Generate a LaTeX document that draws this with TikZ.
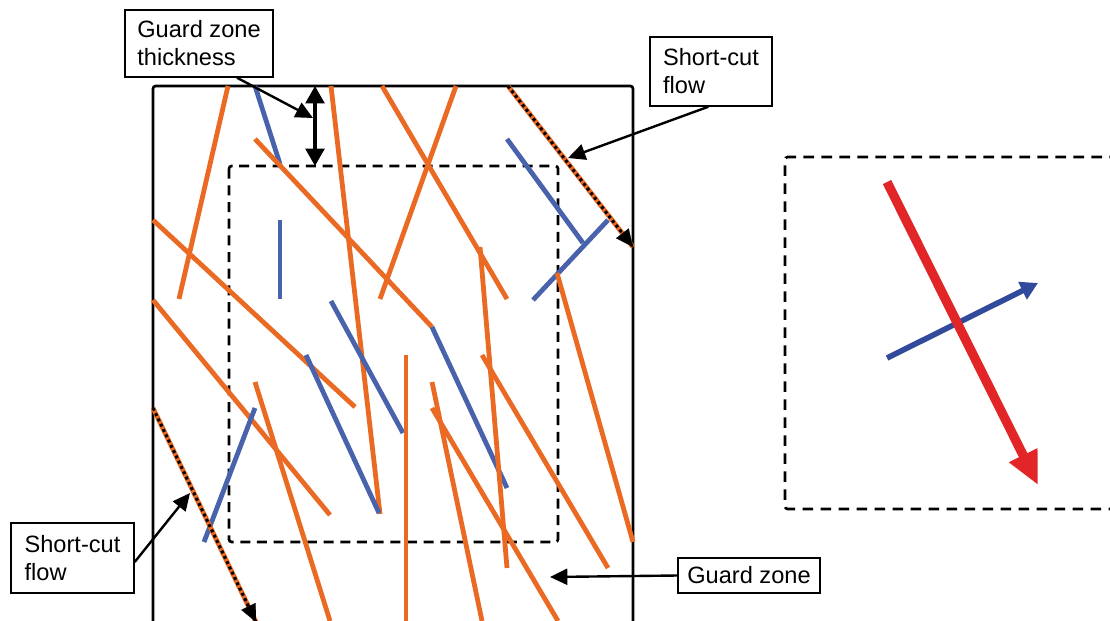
\documentclass[tikz,border=0pt]{standalone}
\usepackage{fontspec}
\setmainfont{Liberation Sans}
\usetikzlibrary{arrows.meta,calc}
\definecolor{fibor}{RGB}{234,106,36}
\definecolor{fibbl}{RGB}{72,98,172}
\definecolor{arred}{RGB}{226,37,38}
\definecolor{arbl}{RGB}{50,74,155}
\begin{document}
\begin{tikzpicture}[x=0.75pt,y=-0.75pt,
  ofib/.style={draw=fibor, line width=3.6pt},
  bfib/.style={draw=fibbl, line width=3.6pt},
  lbl/.style={draw, line width=1.1pt, fill=white, align=left,
    font=\fontsize{17.7}{21}\selectfont, inner sep=0pt},
  leader/.style={line width=1.8pt, -{Triangle[length=13pt,width=12pt]}},
  dotline/.style={draw=black, line width=2.3pt, dash pattern=on 2.2pt off 2.2pt},
  dottip/.style={line width=0.1pt, -{Triangle[length=13pt,width=12pt]}},
  gzbox/.style={line width=2pt, dash pattern=on 7.5pt off 5pt},
  outer/.style={line width=2pt, rounded corners=2pt}]
\useasboundingbox (0,0) rectangle (1110,621);
\clip (0,0) rectangle (1110,621);

% outer sample box and guard-zone box
\draw[outer] (153,630) -- (153,86) -- (633,86) -- (633,630);
\draw[gzbox, rounded corners=2pt] (229,166) rectangle (558,542);

% fibres
\draw[ofib] (228,86) -- (179,299);
\draw[bfib] (255,86) -- (280,164);
\draw[ofib] (255,139) -- (432,327);
\draw[bfib] (432,327) -- (507,488);
\draw[ofib] (331,86) -- (380,514);
\draw[ofib] (382,86) -- (507,299);
\draw[ofib] (456,86) -- (380,299);
\draw[ofib] (480,247) -- (507,568);
\draw[bfib] (507,139) -- (583,243);
\draw[bfib] (533,300) -- (608,220);
\draw[ofib] (557,273) -- (633,542);
\draw[bfib] (280,220) -- (280,299);
\draw[ofib] (153,220) -- (355,407);
\draw[ofib] (153,300) -- (330,515);
\draw[bfib] (331,301) -- (403,433);
\draw[bfib] (306,355) -- (379,513);
\draw[ofib] (255,382) -- (330,621);
\draw[bfib] (255,408) -- (204,542);
\draw[ofib] (406,355) -- (406,625);
\draw[ofib] (432,382) -- (482,621);
\draw[ofib] (432,408) -- (558,621);
\draw[ofib] (482,355) -- (608,568);

% short-cut fibres (dotted)
\coordinate (sa1) at (508,86);
\coordinate (sa2) at (633,247);
\coordinate (sb1) at (153,408);
\coordinate (sb2) at (256,622);
\draw[ofib] (sa1) -- (sa2);
\draw[dotline] (sa1) -- (sa2);
\draw[dottip] ($(sa1)!0.9!(sa2)$) -- (sa2);
\draw[ofib] (sb1) -- (sb2);
\draw[dotline] (sb1) -- (sb2);
\draw[dottip] ($(sb1)!0.9!(sb2)$) -- (sb2);

% guard-zone thickness double arrow
\coordinate (gt1) at (315,86);
\coordinate (gt2) at (315,166);
\draw[line width=2.6pt, {Triangle[length=13pt,width=14pt]}-{Triangle[length=13pt,width=14pt]}] (gt1) -- (gt2);

% labels
\node[lbl, minimum width=111pt, minimum height=50.25pt] (gzt) at (199,43.5) {Guard zone\\thickness};
\node[lbl, minimum width=91.5pt, minimum height=51.75pt] (sct) at (711,71.5) {Short-cut\\flow};
\node[lbl, minimum width=92.25pt, minimum height=52.5pt] (scb) at (72.5,558) {Short-cut\\flow};
\node[lbl, minimum width=106.5pt, minimum height=26.25pt] (gz) at (749,575.5) {Guard zone};

\coordinate (gztT) at (313,118);
\coordinate (sctT) at (568,158);
\coordinate (scbT) at (190,493);
\coordinate (gzT) at (550,577);
\draw[leader] ([xshift=28.5pt]gzt.south) -- (gztT);
\draw[leader] ([xshift=-2pt]sct.south) -- (sctT);
\draw[leader] ([yshift=-3pt]scb.east) -- (scbT);
\draw[leader] (gz.west) -- (gzT);

% right panel
\draw[gzbox, dash pattern=on 8pt off 5.5pt, rounded corners=2pt] (1120,157) -- (785,157) -- (785,509) -- (1120,509);
\coordinate (r1) at (887,182);
\coordinate (r2) at (1038,485);
\coordinate (b1) at (887,358);
\coordinate (b2) at (1038,283);
\draw[draw=arbl, line width=4.2pt, -{Triangle[length=13pt,width=14pt]}] (b1) -- (b2);
\draw[draw=arred, line width=7pt, -{Triangle[length=25pt,width=22pt]}] (r1) -- (r2);
\end{tikzpicture}
\end{document}
